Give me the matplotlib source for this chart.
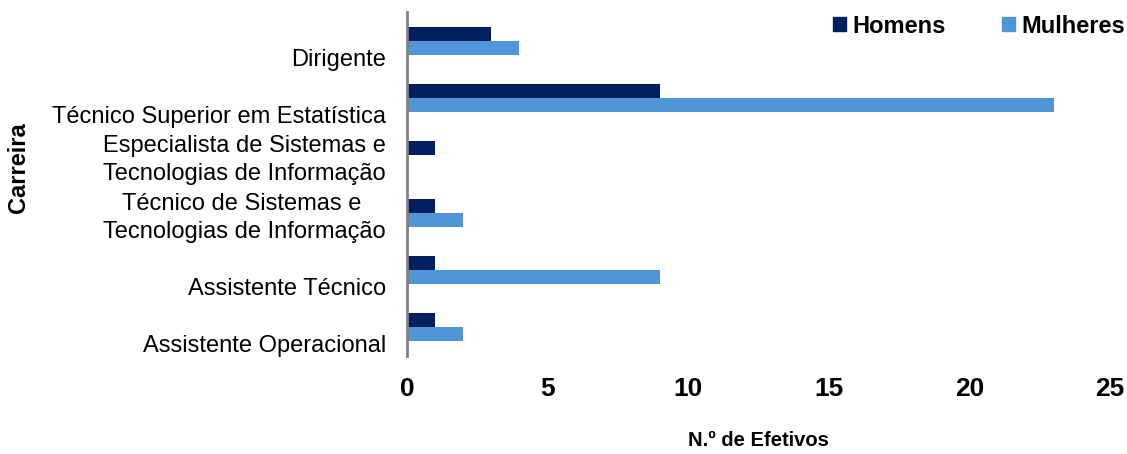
import numpy as np
import matplotlib.pyplot as plt
import matplotlib.transforms as mtransforms
from matplotlib.patches import Patch

plt.rcParams['font.family'] = ['Liberation Sans', 'DejaVu Sans']

carreiras = ["Dirigente",
             "Técnico Superior em Estatística",
             "Especialista de Sistemas e\nTecnologias de Informação",
             "Técnico de Sistemas e \nTecnologias de Informação",
             "Assistente Técnico",
             "Assistente Operacional"]
homens = [3, 9, 1, 1, 1, 1]
mulheres = [4, 23, 0, 2, 9, 2]

cor_h = '#002060'
cor_m = '#4F96D9'

fig = plt.figure(figsize=(11.27, 4.54), dpi=100)
ax = fig.add_axes([0.361, 0.216, 0.624, 0.757])

y = np.arange(len(carreiras))
h = 0.245
ax.barh(y - h / 2, homens, height=h, color=cor_h, label='Homens')
ax.barh(y + h / 2, mulheres, height=h, color=cor_m, label='Mulheres')

ax.set_ylim(len(carreiras) - 0.5, -0.5)
ax.set_xlim(0, 25)
ax.set_xticks([0, 5, 10, 15, 20, 25])
ax.set_yticks(y)
ax.set_yticklabels([])

# category labels drawn by hand: one-line labels sit on the lower line
# of a two-line slot, like the original Excel chart
for yi, nome in zip(y, carreiras):
    dy = -5 if '\n' in nome else -19
    off = mtransforms.ScaledTranslation(-21 / 100, dy / 100, fig.dpi_scale_trans)
    ax.text(0, yi, nome, transform=ax.get_yaxis_transform() + off,
            fontsize=17, linespacing=1.35, ha='right', va='center',
            multialignment='center')

for lbl in ax.get_xticklabels():
    lbl.set_fontweight('bold')
    lbl.set_fontsize(19)
ax.tick_params(axis='both', length=0)
ax.tick_params(axis='x', pad=15)

for s in ['top', 'right', 'bottom']:
    ax.spines[s].set_visible(False)
ax.spines['left'].set_color('#808080')
ax.spines['left'].set_linewidth(2)

ax.set_xlabel('N.º de Efetivos', fontsize=14.5, fontweight='bold', labelpad=22)
fig.text(0.016, 0.63, 'Carreira', rotation=90, fontsize=17, fontweight='bold',
         ha='center', va='center')

handles = [Patch(color=cor_h), Patch(color=cor_m)]
ax.legend(handles, ['Homens', 'Mulheres'], ncol=2, frameon=False,
          loc='upper right', bbox_to_anchor=(1.051, 1.055),
          prop={'weight': 'bold', 'size': 17},
          handlelength=0.55, handleheight=0.55, handletextpad=0.25,
          columnspacing=2.4)

fig.savefig('out.png', dpi=100)
